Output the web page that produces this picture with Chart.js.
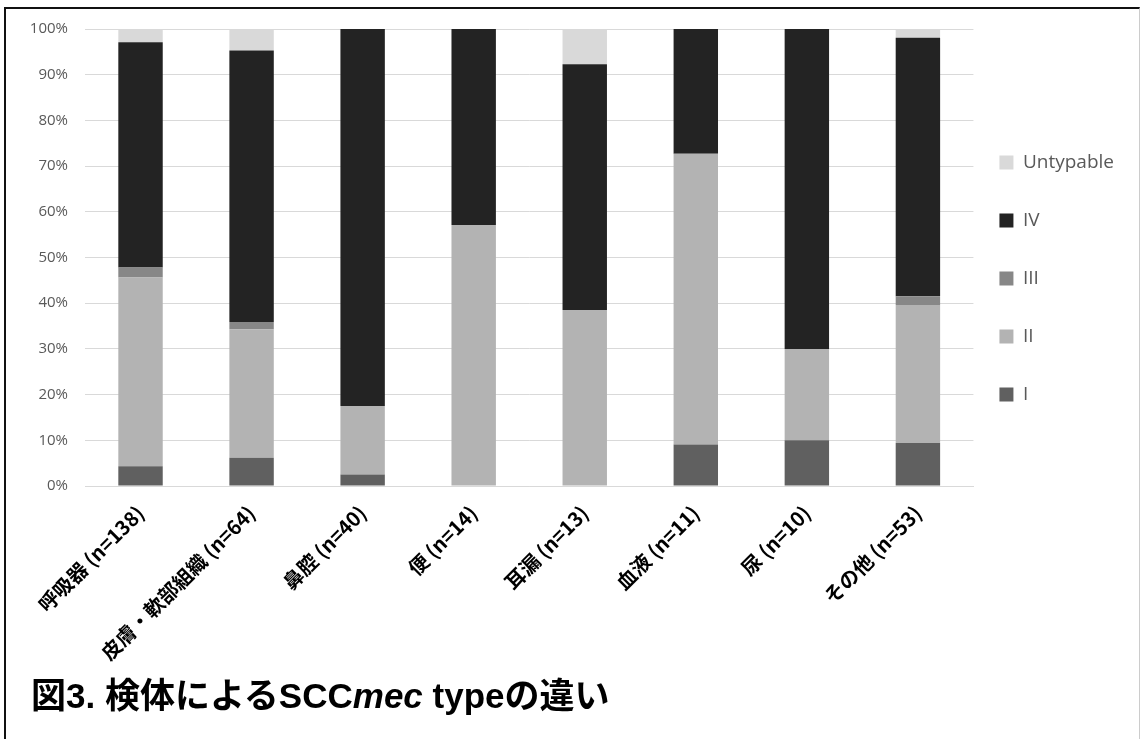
<!DOCTYPE html>
<html lang="ja">
<head>
<meta charset="utf-8">
<script src="https://cdn.jsdelivr.net/npm/chart.js@4.4.1/dist/chart.umd.min.js"></script>
<style>
  body { margin: 0; background: #fff; }
  #wrap { position: relative; width: 1140px; height: 739px; overflow: hidden; }
  #frame {
    position: absolute; left: 4px; top: 7px; width: 1133px; height: 740px;
    border-top: 2px solid #111; border-left: 2px solid #111; border-right: 1px solid #ccc;
  }
  #chart { position: absolute; left: 0; top: 0; }
  #caption {
    position: absolute; left: 31px; top: 677px;
    font: bold 35px "Liberation Sans", "Noto Sans CJK JP", sans-serif;
    line-height: 38px; color: #000; white-space: nowrap;
  }
</style>
</head>
<body>
<div id="wrap">
  <div id="frame"></div>
  <canvas id="chart" width="1140" height="739"></canvas>
  <div id="caption">図3. 検体によるSCC<i>mec</i> typeの違い</div>
</div>
<script>
// categories (specimen type and n)
const labels = ['呼吸器 (n=138)', '皮膚・軟部組織 (n=64)', '鼻腔 (n=40)', '便 (n=14)',
                '耳漏 (n=13)', '血液 (n=11)', '尿 (n=10)', 'その他 (n=53)'];

// percentage of each SCCmec type per specimen
const typeI     = [4.3, 6.2, 2.5, 0, 0, 9.1, 10, 9.4];
const typeII    = [41.3, 28.1, 15.0, 57.1, 38.5, 63.6, 20, 30.2];
const typeIII   = [2.2, 1.6, 0, 0, 0, 0, 0, 1.9];
const typeIV    = [49.3, 59.4, 82.5, 42.9, 53.8, 27.3, 70, 56.6];
const untypable = [2.9, 4.7, 0, 0, 7.7, 0, 0, 1.9];

// y axis ticks
const yTicks = [0, 10, 20, 30, 40, 50, 60, 70, 80, 90, 100];

// small nudge so the legend sits like the excel one
const legendNudge = {
    id: 'legendNudge',
    afterLayout(chart) {
        const lg = chart.legend;
        lg.left -= 13;
        lg.top += 21;
        lg.bottom += 21;
    }
};

const ctx = document.getElementById('chart').getContext('2d');

const chart = new Chart(ctx, {
    type: 'bar',
    data: {
        labels: labels,
        datasets: [
            { label: 'I', data: typeI, backgroundColor: '#606060' },
            { label: 'II', data: typeII, backgroundColor: '#b3b3b3' },
            { label: 'III', data: typeIII, backgroundColor: '#878787' },
            { label: 'IV', data: typeIV, backgroundColor: '#232323' },
            { label: 'Untypable', data: untypable, backgroundColor: '#d9d9d9' }
        ]
    },
    options: {
        responsive: false,
        animation: false,
        datasets: {
            bar: { categoryPercentage: 1, barPercentage: 0.4, borderWidth: 0 }
        },
        layout: { padding: { top: 29, left: 0, right: 3, bottom: 0 } },
        scales: {
            x: {
                stacked: true,
                grid: { display: false, drawTicks: false },
                border: { display: true, color: '#d9d9d9', width: 1 },
                ticks: {
                    color: '#000',
                    autoSkip: false,
                    minRotation: 45,
                    maxRotation: 45,
                    padding: 15,
                    font: { family: '"Noto Sans CJK JP", sans-serif', size: 20, weight: 'bold' }
                },
                afterFit(scale) { scale.height = 739 - 486; }
            },
            y: {
                stacked: true,
                min: 0,
                max: 100,
                afterBuildTicks(scale) { scale.ticks = yTicks.map(v => ({ value: v })); },
                grid: { color: '#d9d9d9', drawTicks: false },
                border: { display: false },
                ticks: {
                    color: '#595959',
                    padding: 17,
                    font: { family: '"Open Sans", sans-serif', size: 15 },
                    callback: function (value) { return value + '%'; }
                },
                afterFit(scale) { scale.width = 85; }
            }
        },
        plugins: {
            legend: {
                position: 'right',
                fullSize: false,
                reverse: true,
                maxWidth: 1140 - 973,
                labels: {
                    boxWidth: 14,
                    boxHeight: 14,
                    padding: 39,
                    color: '#595959',
                    font: { family: '"Open Sans", sans-serif', size: 19 }
                }
            },
            tooltip: { enabled: false }
        }
    },
    plugins: [legendNudge]
});
</script>
</body>
</html>
